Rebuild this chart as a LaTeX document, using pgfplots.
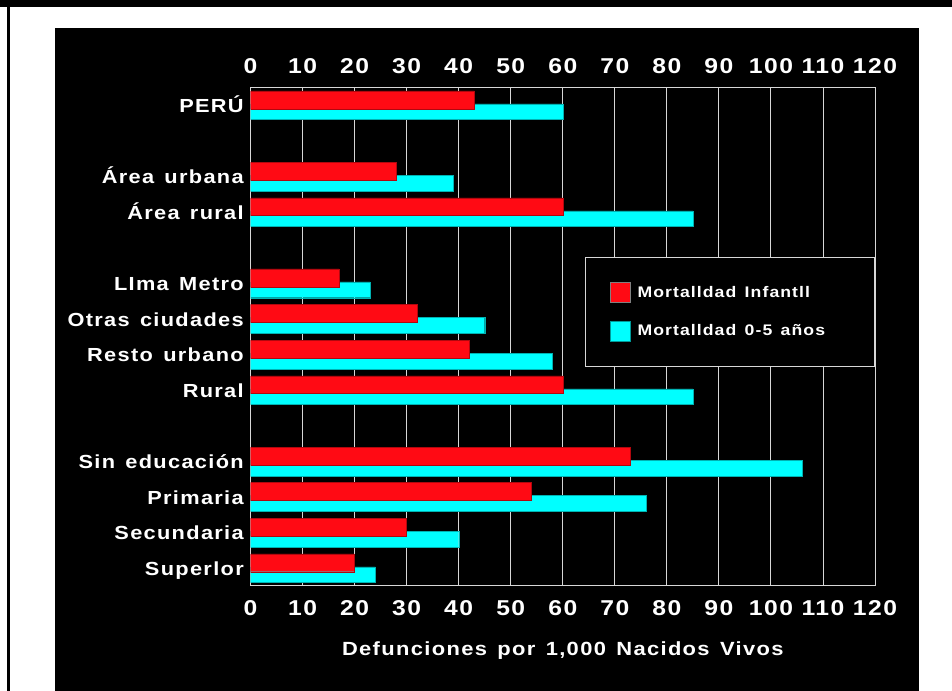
\documentclass[border=0pt]{standalone}
\usepackage{fontspec}
\setmainfont{Liberation Sans}[LetterSpace=7, FakeStretch=1.15, WordSpace=1.4]
\usepackage{pgfplots}
\pgfplotsset{compat=1.18}
\definecolor{barred}{RGB}{255,10,20}
\definecolor{barcyan}{RGB}{0,255,255}
\definecolor{gridc}{RGB}{215,215,215}
\begin{document}
\begin{tikzpicture}
\fill[white] (0,0) rectangle (714pt,518.25pt);
\fill[black] (41.25pt,0) rectangle (689.25pt,497.25pt);
\fill[black] (0,513.2pt) rectangle (714pt,518.25pt);
\fill[black] (5pt,0) rectangle (7.5pt,518.25pt);
\begin{axis}[
  at={(187.9pt,78.75pt)}, anchor=south west,
  scale only axis, width=468.4pt, height=373.9pt,
  xmin=0, xmax=120, ymin=-0.5, ymax=13.5,
  xtick={0,10,...,120},
  ytick={0,1,2,3,5,6,7,8,10,11,13},
  yticklabels={Superlor, Secundaria, Primaria, Sin educación, Rural, Resto urbano, Otras ciudades, LIma Metro, Área rural, Área urbana, PERÚ},
  axis line style={gridc, line width=0.75pt},
  xmajorgrids, major grid style={gridc, line width=0.75pt},
  major tick length=0pt,
  /pgf/number format/assume math mode=true,
  xticklabel style={text=white, font=\fontsize{16.1}{18}\selectfont\bfseries, anchor=base, inner sep=0pt, yshift=-22.5pt},
  yticklabel style={text=white, font=\fontsize{14.2}{16}\selectfont\bfseries, anchor=base east, inner sep=0pt, xshift=-4.9pt, yshift=-5.55pt},
  xlabel={Defunciones por 1,000 Nacidos Vivos},
  xlabel style={text=white, font=\fontsize{14.3}{17}\selectfont\bfseries, at={(axis description cs:0.5,0)}, anchor=base, inner sep=0pt, yshift=-52.5pt},
  legend style={at={(axis description cs:1,0.6606)}, anchor=north east, fill=black, draw=gridc, line width=0.75pt, text=white,
    font=\fontsize{11.5}{13}\selectfont\bfseries, inner xsep=18pt, inner ysep=19pt, row sep=13.35pt,
    nodes={inner sep=0pt}, /tikz/every odd column/.append style={column sep=5.25pt}},
  legend cell align=left,
]
\addplot[xbar, forget plot, bar width=11.8pt, bar shift=-4.9pt, fill=barcyan, draw=barcyan!70!black, line width=0.3pt]
  coordinates {(60,13) (39,11) (85,10) (23,8) (45,7) (58,6) (85,5) (106,3) (76,2) (40,1) (24,0)};
\addplot[xbar, forget plot, bar width=13.4pt, bar shift=4.05pt, fill=barred, draw=barred!70!black, line width=0.3pt]
  coordinates {(43,13) (28,11) (60,10) (17,8) (32,7) (42,6) (60,5) (73,3) (54,2) (30,1) (20,0)};
\addlegendimage{legend image code/.code={\fill[barred, draw=gray, line width=0.5pt] (0pt,-7.5pt) rectangle (15pt,7.5pt);}}
\addlegendentry{\makebox[159.75pt][l]{Mortalldad Infantll}}
\addlegendimage{legend image code/.code={\fill[barcyan, draw=barcyan!60!black, line width=0.5pt] (0pt,-7.5pt) rectangle (15pt,7.5pt);}}
\addlegendentry{\makebox[159.75pt][l]{Mortalldad 0-5 años}}
\end{axis}
\begin{axis}[
  at={(187.9pt,78.75pt)}, anchor=south west,
  scale only axis, width=468.4pt, height=373.9pt,
  xmin=0, xmax=120, ymin=-0.5, ymax=13.5,
  xtick={0,10,...,120}, ytick=\empty,
  axis line style={draw=none},
  major tick length=0pt,
  xticklabel pos=upper,
  /pgf/number format/assume math mode=true,
  xticklabel style={text=white, font=\fontsize{16.1}{18}\selectfont\bfseries, anchor=base, inner sep=0pt, yshift=10.65pt},
]
\end{axis}
\pgfresetboundingbox
\useasboundingbox (0,0) rectangle (714pt,518.25pt);
\end{tikzpicture}
\end{document}
